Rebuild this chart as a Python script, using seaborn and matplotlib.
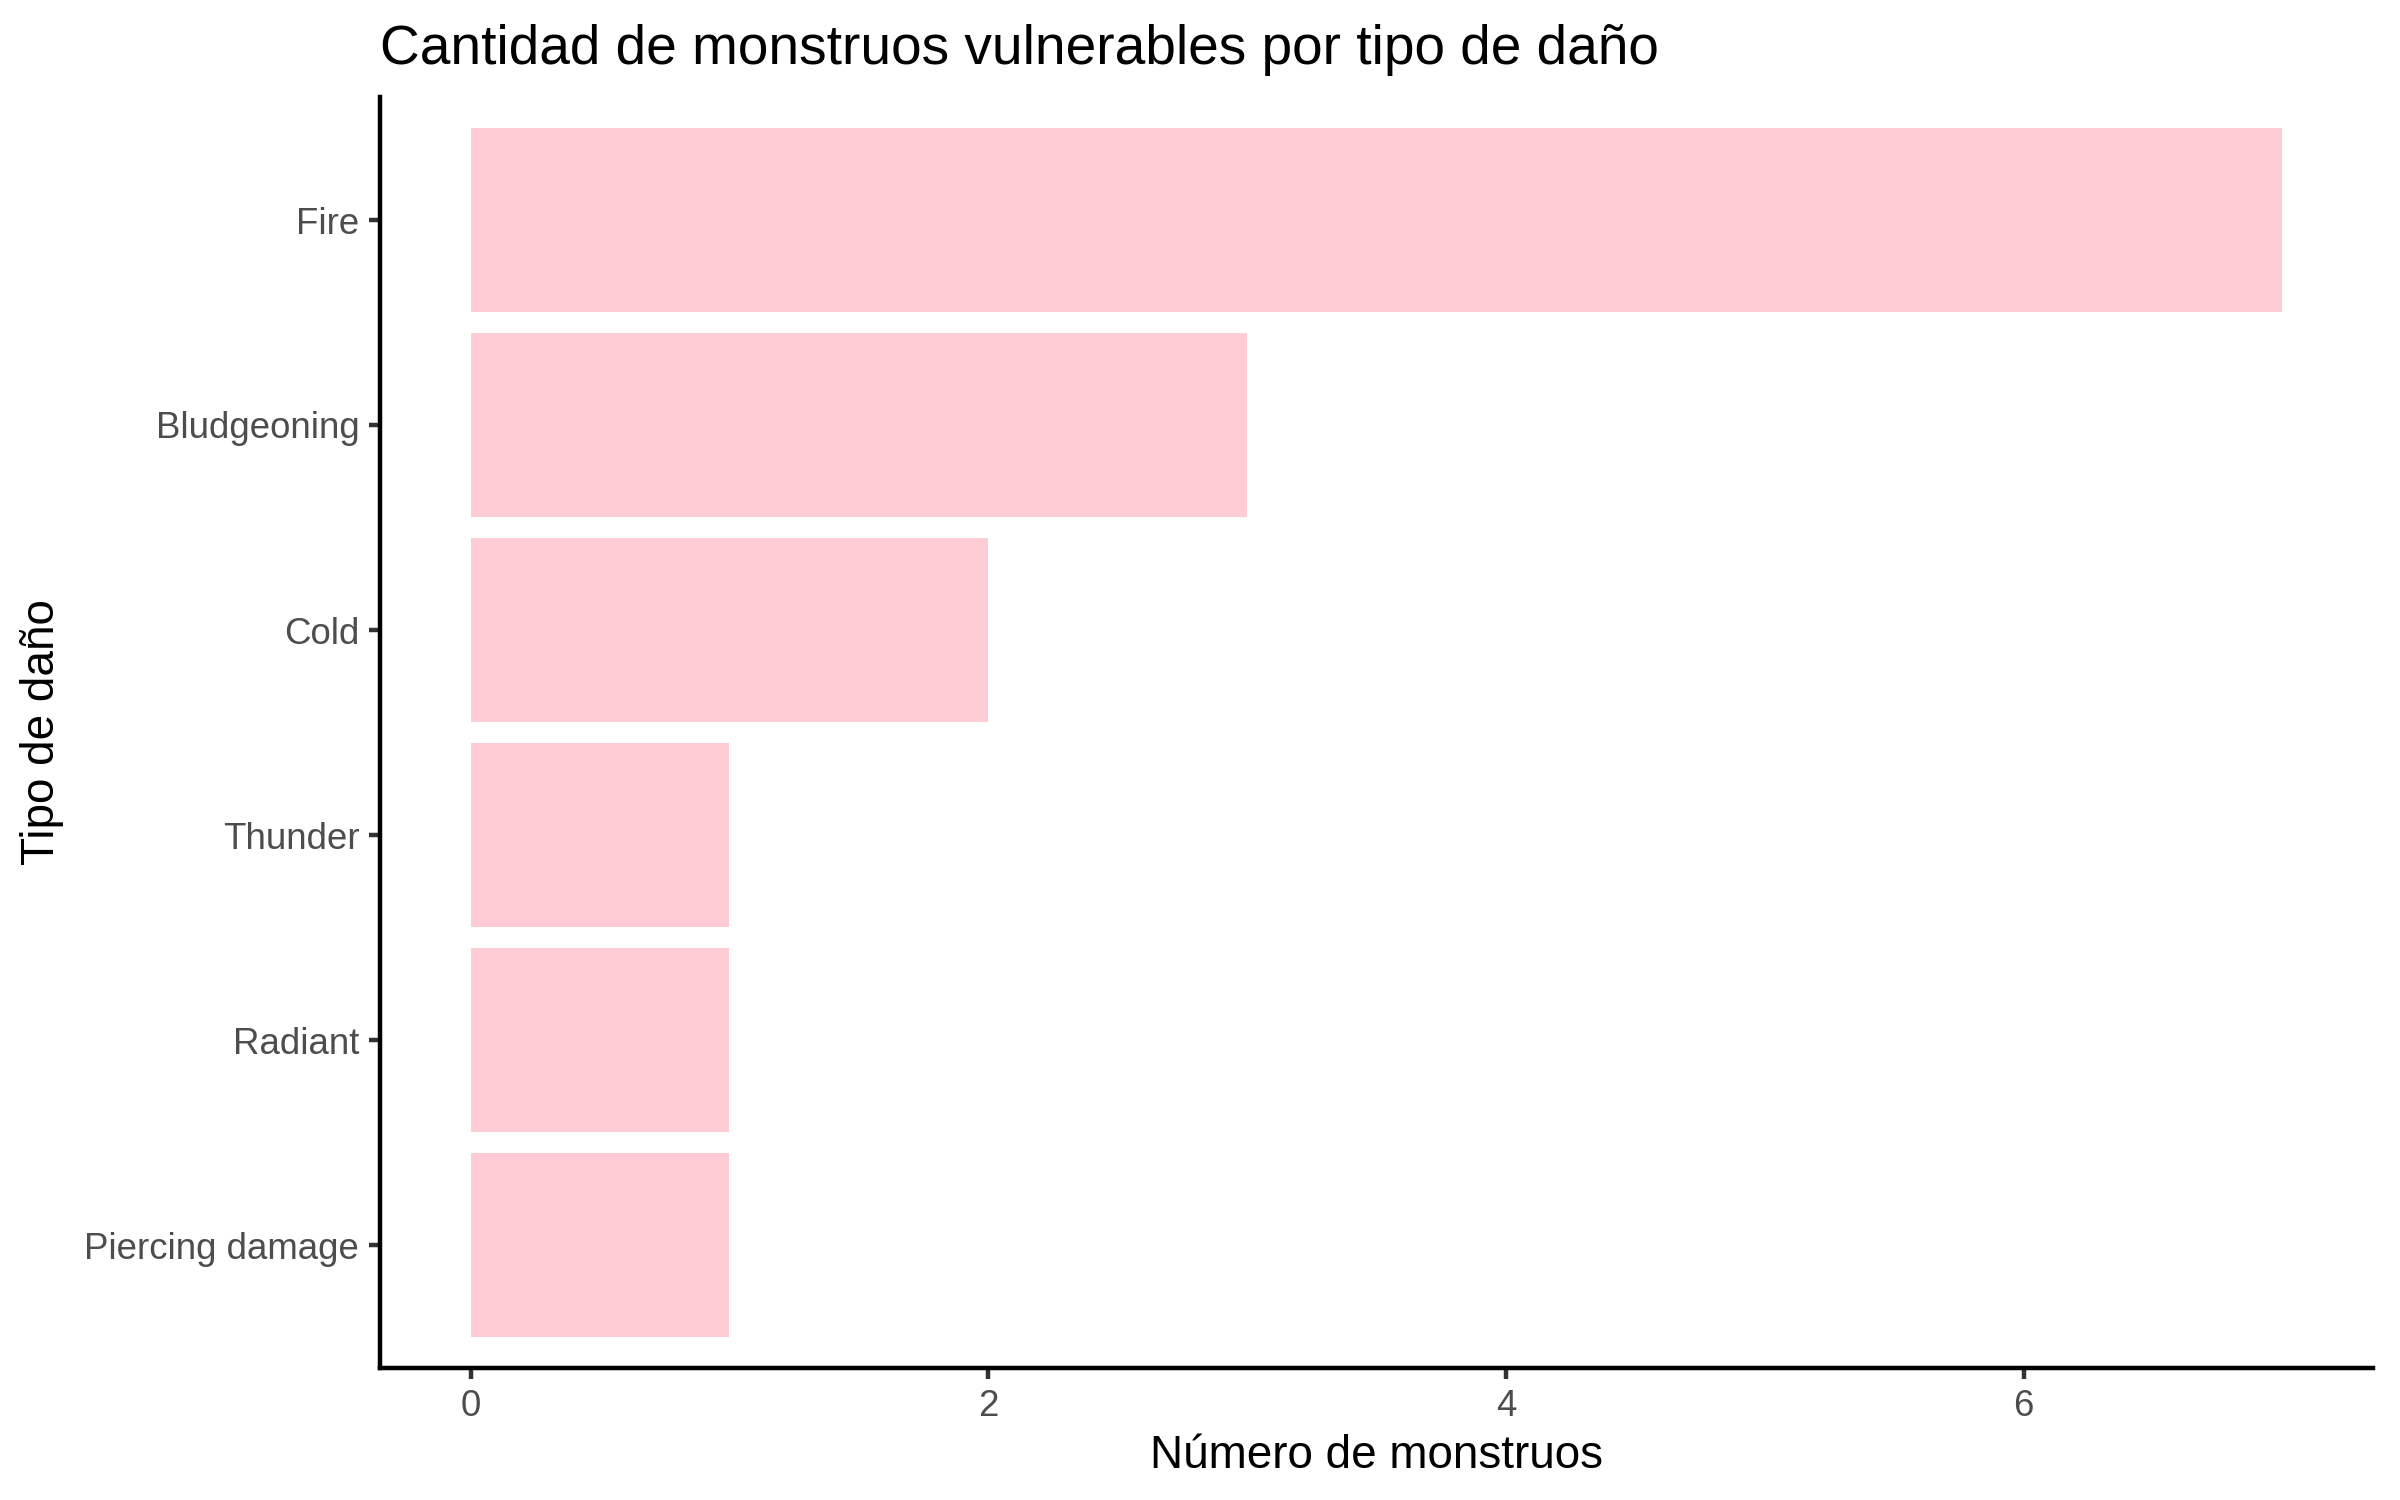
import pandas as pd
import seaborn as sns
import matplotlib.pyplot as plt

# data
damage_types = ['Fire', 'Bludgeoning', 'Cold', 'Thunder', 'Radiant', 'Piercing damage']
monster_counts = [7, 3, 2, 1, 1, 1]

df = pd.DataFrame({'tipo': damage_types, 'n': monster_counts})

sns.set_style('white')
plt.rcParams['font.family'] = ['Liberation Sans', 'DejaVu Sans']

fig = plt.figure(figsize=(8, 5), dpi=300)
ax = fig.add_axes([380 / 2400, 1 - 1368 / 1500, (2373 - 380) / 2400, (1368 - 97) / 1500])

sns.barplot(data=df, x='n', y='tipo', order=damage_types, color='pink',
            alpha=0.8, width=0.9, saturation=1, linewidth=0, ax=ax)

ax.set_xlim(-0.35, 7.35)
ax.set_ylim(len(damage_types) - 0.4, -0.6)
ax.set_xticks([0, 2, 4, 6])

for side in ['top', 'right']:
    ax.spines[side].set_visible(False)
for side in ['left', 'bottom']:
    ax.spines[side].set_color('black')
    ax.spines[side].set_linewidth(1.07)

# seaborn's white style switches ticks off
ax.tick_params(axis='both', bottom=True, left=True, length=2.75, width=1.07,
               color='#333333', labelsize=8.8, labelcolor='#4D4D4D', pad=2.2)

ax.set_xlabel('Número de monstruos', fontsize=11, color='black', labelpad=2.5)
ax.set_ylabel('Tipo de daño', fontsize=11, color='black', labelpad=5)
ax.set_title('Cantidad de monstruos vulnerables por tipo de daño',
             fontsize=13.2, loc='left', color='black', pad=8)

fig.savefig('out.png', dpi=300)
